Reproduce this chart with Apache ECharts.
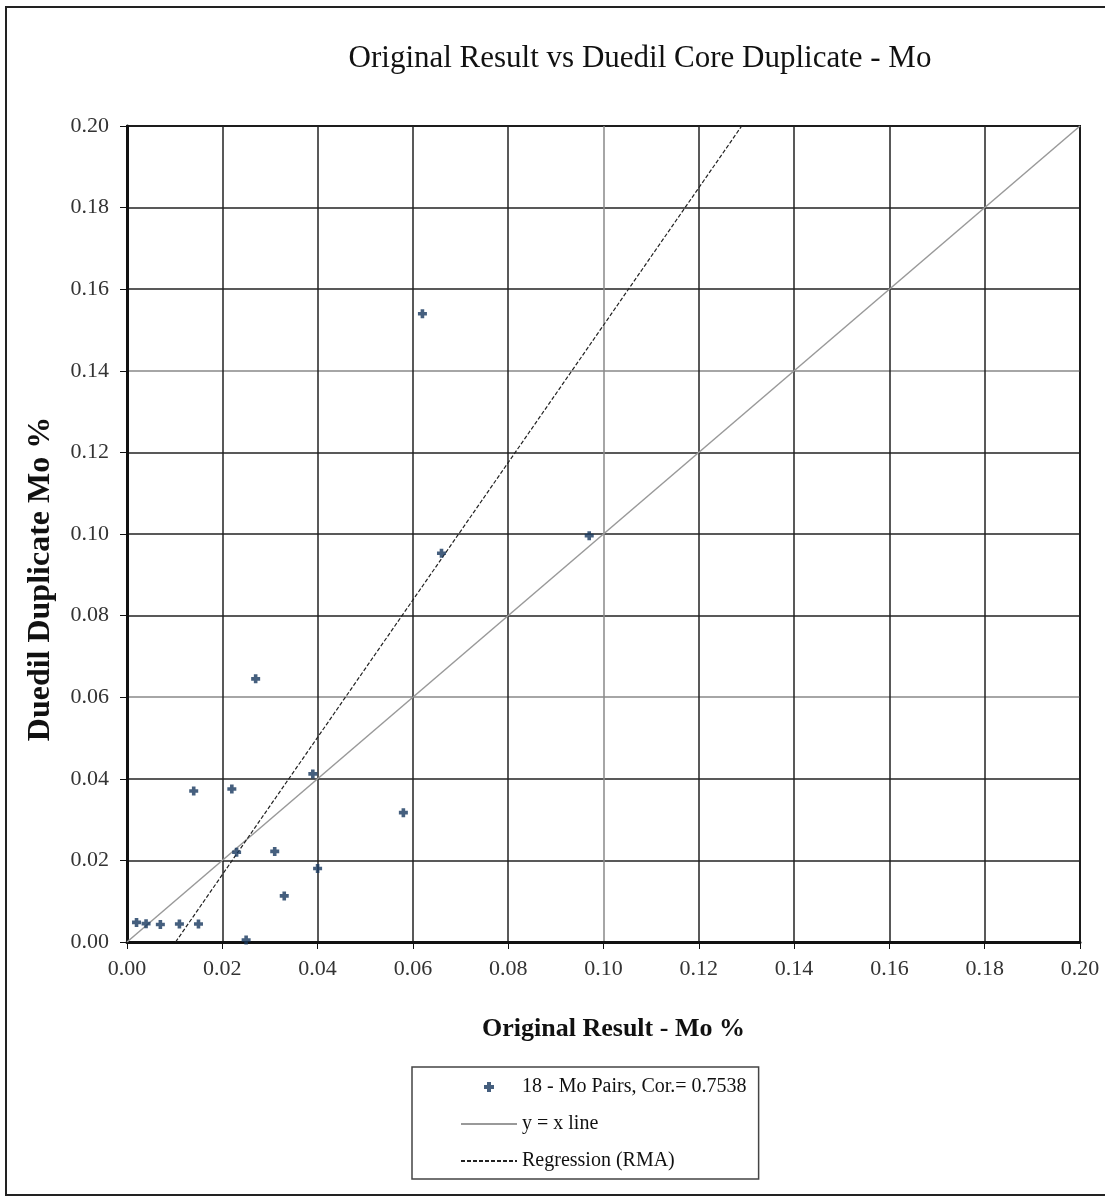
<!DOCTYPE html>
<html>
<head>
<meta charset="utf-8">
<script src="https://cdn.jsdelivr.net/npm/echarts@6/dist/echarts.min.js"></script>
<style>
  html, body { margin: 0; padding: 0; background: #fff; }
  #moChart { width: 1105px; height: 1197px; }
</style>
</head>
<body>
<div id="moChart"></div>
<script>
// Original vs duplicate (Mo %) pairs
var origMo = [0.014, 0.022, 0.023, 0.031, 0.040, 0.033, 0.025, 0.002, 0.004, 0.007, 0.011, 0.015, 0.027, 0.039, 0.058, 0.062, 0.066, 0.097];
var dupMo  = [0.037, 0.0375, 0.022, 0.0222, 0.018, 0.0113, 0.0005, 0.0048, 0.0045, 0.0043, 0.0044, 0.0044, 0.0645, 0.0412, 0.0317, 0.154, 0.0953, 0.0996];
// reference lines
var oneToOneX = [0, 0.2];
var oneToOneY = [0, 0.2];
var rmaX = [0.0102, 0.129];
var rmaY = [0, 0.2];
var tickLabels = ['0.00', '0.02', '0.04', '0.06', '0.08', '0.10', '0.12', '0.14', '0.16', '0.18', '0.20'];

var serif = '"Liberation Serif", "Times New Roman", serif';
var plusPath = 'path://M3,0H7V3H10V7H7V10H3V7H0V3H3Z';
var pairsName = '18 - Mo Pairs, Cor.= 0.7538';

function pairs(xs, ys) {
	var out = [];
	for (var i = 0; i < xs.length; i++) out.push([xs[i], ys[i]]);
	return out;
}
function tickFmt(v) {
	var i = Math.round(v / 0.02);
	return tickLabels[i] !== undefined ? tickLabels[i] : v.toFixed(2);
}

var chart = echarts.init(document.getElementById('moChart'));
var option = {
	backgroundColor: '#fff',
	animation: false,
	title: {
		text: 'Original Result vs Duedil Core Duplicate - Mo',
		left: 635,
		textAlign: 'center',
		top: 38,
		textStyle: { fontFamily: serif, fontSize: 31, fontWeight: 'normal', color: '#111' }
	},
	graphic: [{
		type: 'rect',
		shape: { x: 6, y: 7, width: 1120, height: 1188 },
		style: { fill: 'none', stroke: '#222', lineWidth: 2 },
		silent: true
	}, {
		// y axis title, placed as in the original
		type: 'text',
		x: 41,
		y: 579,
		rotation: Math.PI / 2,
		style: {
			text: 'Duedil Duplicate Mo %',
			align: 'center',
			verticalAlign: 'middle',
			fontFamily: serif,
			fontSize: 32,
			fontWeight: 'bold',
			fill: '#111'
		},
		silent: true
	}],
	grid: {
		left: 127,
		top: 126,
		right: 25,
		bottom: 255,
		show: true,
		borderColor: '#111',
		borderWidth: 2
	},
	legend: {
		orient: 'vertical',
		left: 412,
		top: 1067,
		padding: [10, 12, 8, 48],
		itemGap: 17,
		itemWidth: 56,
		itemHeight: 10,
		symbolKeepAspect: true,
		borderColor: '#444',
		borderWidth: 1.5,
		textStyle: { fontFamily: serif, fontSize: 20, color: '#111' },
		data: [
			{ name: pairsName },
			{ name: 'y = x line', itemStyle: { opacity: 0 } },
			{ name: 'Regression (RMA)', itemStyle: { opacity: 0 } }
		]
	},
	xAxis: {
		type: 'value',
		min: 0,
		max: 0.2,
		interval: 0.02,
		name: 'Original Result - Mo %',
		nameLocation: 'middle',
		nameGap: 74,
		nameTextStyle: { fontFamily: serif, fontSize: 26, fontWeight: 'bold', color: '#111', padding: [0, 0, 0, 20] },
		axisLine: { lineStyle: { color: '#111', width: 3 } },
		axisTick: { show: true, length: 7, lineStyle: { color: '#111' } },
		axisLabel: { fontFamily: serif, fontSize: 22, color: '#333', margin: 16, formatter: tickFmt },
		splitLine: { lineStyle: { color: ['#222', '#222', '#222', '#222', '#222', '#888', '#222', '#222', '#222', '#222', '#222'], width: 1.5 } }
	},
	yAxis: {
		type: 'value',
		min: 0,
		max: 0.2,
		interval: 0.02,
		axisLine: { lineStyle: { color: '#111', width: 3 } },
		axisTick: { show: true, length: 7, lineStyle: { color: '#111' } },
		axisLabel: { fontFamily: serif, fontSize: 22, color: '#333', margin: 18, formatter: tickFmt },
		splitLine: { lineStyle: { color: ['#222', '#222', '#222', '#888', '#222', '#222', '#222', '#888', '#222', '#222', '#222'], width: 1.5 } }
	},
	series: [{
		name: 'y = x line',
		type: 'line',
		data: pairs(oneToOneX, oneToOneY),
		showSymbol: false,
		lineStyle: { color: '#999', width: 1.5 },
		itemStyle: { color: '#999' },
		z: 3
	}, {
		name: 'Regression (RMA)',
		type: 'line',
		data: pairs(rmaX, rmaY),
		showSymbol: false,
		lineStyle: { color: '#222', width: 1.2, type: [4, 2] },
		itemStyle: { color: '#222' },
		z: 3
	}, {
		name: pairsName,
		type: 'scatter',
		data: pairs(origMo, dupMo),
		symbol: plusPath,
		symbolSize: 9,
		itemStyle: { color: '#17375e' },
		z: 5
	}]
};
chart.setOption(option);
</script>
</body>
</html>
